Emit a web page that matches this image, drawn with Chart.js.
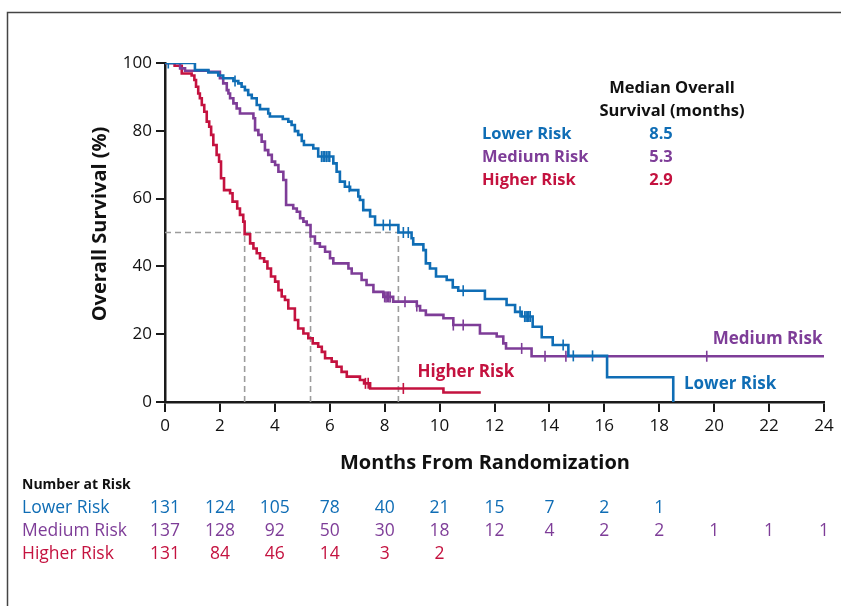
<!DOCTYPE html>
<html>
<head>
<meta charset="utf-8">
<script src="https://cdn.jsdelivr.net/npm/chart.js@4/dist/chart.umd.min.js"></script>
<style>
  html, body { margin: 0; padding: 0; background: #fff; }
  #wrap { width: 841px; height: 606px; position: relative; }
</style>
</head>
<body>
<div id="wrap"><canvas id="km" width="841" height="606"></canvas></div>
<script>
// Kaplan-Meier step data: event times (months) and overall survival (%)
const lowerTimes = [0, 1.09, 1.58, 1.94, 2.12, 2.49, 2.67, 2.79, 2.91, 3.03, 3.16, 3.34, 3.46, 3.76, 3.82, 4.29, 4.49, 4.61, 4.73, 4.85, 4.98, 5.06, 5.40, 5.58, 6.13, 6.25, 6.37, 6.55, 6.74, 7.04, 7.10, 7.22, 7.47, 7.65, 8.5, 8.98, 9.04, 9.41, 9.50, 9.65, 9.87, 10.26, 10.48, 10.68, 11.65, 12.44, 12.75, 12.99, 13.39, 13.72, 14.12, 14.69, 16.10, 18.51];
const lowerSurv  = [100, 97.9, 97.2, 96.3, 95.5, 94.7, 94.0, 93.0, 92.0, 90.6, 89.6, 87.6, 86.4, 85.1, 84.2, 83.5, 82.7, 81.7, 79.9, 78.8, 77.0, 75.8, 74.8, 72.4, 70.4, 67.9, 65.0, 63.5, 62.5, 60.6, 59.6, 56.6, 54.7, 52.2, 50.0, 48.3, 46.5, 44.8, 40.9, 39.4, 37.0, 36.0, 33.8, 32.8, 30.4, 28.6, 26.6, 25.2, 22.2, 19.1, 16.8, 13.6, 7.3, 0];
const lowerCensored = [0.12, 2.55, 5.70, 5.76, 5.82, 5.88, 5.94, 6.0, 6.71, 7.95, 8.19, 8.68, 8.86, 10.86, 12.93, 13.10, 13.15, 13.20, 13.25, 13.30, 14.5, 14.87, 15.57];

const mediumTimes = [0, 0.55, 0.73, 1.58, 2.0, 2.12, 2.25, 2.31, 2.37, 2.49, 2.61, 2.73, 3.22, 3.28, 3.40, 3.52, 3.64, 3.76, 3.89, 4.01, 4.13, 4.31, 4.41, 4.67, 4.80, 4.92, 5.04, 5.16, 5.3, 5.46, 5.64, 5.83, 6.01, 6.13, 6.68, 6.80, 7.16, 7.34, 7.59, 7.95, 8.31, 9.17, 9.29, 9.50, 10.14, 10.5, 11.47, 12.08, 12.32, 12.42, 13.35, 24];
const mediumSurv  = [100, 98.4, 97.7, 97.4, 95.5, 94.0, 92.0, 91.0, 89.6, 88.1, 86.6, 85.1, 83.7, 80.2, 78.8, 76.8, 74.3, 72.9, 70.9, 69.9, 67.9, 65.5, 58.1, 57.1, 56.1, 54.2, 53.2, 52.2, 48.8, 46.8, 45.8, 44.3, 42.4, 40.9, 39.4, 37.9, 36.0, 34.5, 32.5, 31.0, 29.6, 28.3, 27.0, 25.7, 24.7, 22.7, 20.2, 19.3, 17.3, 15.8, 13.5, 13.5];
const mediumCensored = [8.0, 8.05, 8.1, 8.15, 8.2, 8.74, 9.17, 10.5, 10.86, 12.99, 13.84, 14.6, 19.73];

const higherTimes = [0, 0.35, 0.61, 0.97, 1.07, 1.13, 1.21, 1.27, 1.34, 1.43, 1.52, 1.61, 1.68, 1.76, 1.88, 1.97, 2.04, 2.15, 2.37, 2.46, 2.63, 2.73, 2.85, 2.9, 3.10, 3.22, 3.34, 3.46, 3.61, 3.73, 3.86, 4.01, 4.13, 4.25, 4.37, 4.49, 4.73, 4.85, 5.04, 5.22, 5.38, 5.58, 5.71, 5.83, 6.07, 6.25, 6.43, 6.62, 7.10, 7.25, 7.47, 10.14, 11.5];
const higherSurv  = [100, 99.2, 96.9, 96.3, 95.0, 93.0, 91.0, 89.6, 87.6, 85.6, 82.7, 81.2, 78.8, 75.8, 72.9, 70.9, 66.0, 62.5, 61.6, 59.1, 57.1, 55.2, 53.2, 49.5, 46.8, 45.3, 43.9, 42.4, 41.4, 39.4, 37.0, 35.5, 33.0, 31.1, 30.1, 27.6, 24.2, 21.7, 20.2, 18.8, 17.3, 16.3, 14.8, 12.9, 11.9, 10.4, 8.9, 7.5, 6.5, 5.5, 4.0, 2.8, 2.8];
const higherCensored = [7.3, 7.4, 8.68];

// Median overall survival (months)
const groupNames = ['Lower Risk', 'Medium Risk', 'Higher Risk'];
const medianOS = [8.5, 5.3, 2.9];

// Number at risk, every 2 months
const riskMonths  = [0, 2, 4, 6, 8, 10, 12, 14, 16, 18, 20, 22, 24];
const lowerRisk   = [131, 124, 105, 78, 40, 21, 15, 7, 2, 1];
const mediumRisk  = [137, 128, 92, 50, 30, 18, 12, 4, 2, 2, 1, 1, 1];
const higherRisk  = [131, 84, 46, 14, 3, 2];

const xTicks = [0, 2, 4, 6, 8, 10, 12, 14, 16, 18, 20, 22, 24];
const yTicks = [0, 20, 40, 60, 80, 100];

const COLORS = { lower: '#0f6db5', medium: '#7e3d98', higher: '#c4123f' };
const FONT = '"Open Sans", "Noto Sans", sans-serif';

function toPoints(ts, ss) { return ts.map((t, i) => ({ x: t, y: ss[i] })); }
function survivalAt(ts, ss, t) {
  let s = ss[0];
  for (let i = 0; i < ts.length; i++) { if (ts[i] <= t) s = ss[i]; else break; }
  return s;
}
function censorPoints(cs, ts, ss) { return cs.map(t => ({ x: t, y: survivalAt(ts, ss, t) })); }

// survival holds its level until the next event time, then drops
const curve = (label, pts, color, order) => ({
  type: 'line', label, data: pts, stepped: 'before', borderColor: color, borderWidth: 2.6,
  pointRadius: 0, fill: false, order
});
const censor = (label, pts, color, order) => ({
  type: 'line', label, data: pts, showLine: false, pointStyle: 'line', rotation: 90,
  pointRadius: 5.5, borderColor: color, backgroundColor: color, pointBorderWidth: 1.6, order
});
const dashed = (pts) => ({
  type: 'line', data: pts, borderColor: '#9c9c9c', borderWidth: 1.6, borderDash: [6, 4],
  pointRadius: 0, fill: false, order: 10
});

const maxMedian = Math.max(...medianOS);
const datasets = [
  curve(groupNames[0], toPoints(lowerTimes, lowerSurv), COLORS.lower, 1),
  censor('lc', censorPoints(lowerCensored, lowerTimes, lowerSurv), COLORS.lower, 1),
  curve(groupNames[1], toPoints(mediumTimes, mediumSurv), COLORS.medium, 2),
  censor('mc', censorPoints(mediumCensored, mediumTimes, mediumSurv), COLORS.medium, 2),
  curve(groupNames[2], toPoints(higherTimes, higherSurv), COLORS.higher, 3),
  censor('hc', censorPoints(higherCensored, higherTimes, higherSurv), COLORS.higher, 3),
  dashed([{ x: 0, y: 50 }, { x: maxMedian, y: 50 }]),
  ...medianOS.map(m => dashed([{ x: m, y: 0 }, { x: m, y: 50 }]))
];

// Frame, axis titles, median table, curve labels and number-at-risk rows
const decorations = {
  id: 'decorations',
  afterDraw(chart) {
    const ctx = chart.ctx;
    const xs = chart.scales.x, ys = chart.scales.y;
    ctx.save();

    // outer frame (top and left edges)
    ctx.strokeStyle = '#444';
    ctx.lineWidth = 1.5;
    ctx.beginPath();
    ctx.moveTo(7.5, 606); ctx.lineTo(7.5, 12.5); ctx.lineTo(841, 12.5);
    ctx.stroke();

    ctx.fillStyle = '#111';
    ctx.textBaseline = 'middle';

    // y axis title
    ctx.save();
    ctx.translate(100, 224);
    ctx.rotate(-Math.PI / 2);
    ctx.textAlign = 'center';
    ctx.font = 'bold 20px ' + FONT;
    ctx.fillText('Overall Survival (%)', 0, 0);
    ctx.restore();

    // x axis title
    ctx.textAlign = 'center';
    ctx.font = 'bold 20px ' + FONT;
    ctx.fillText('Months From Randomization', 485, 463);

    // median overall survival table
    ctx.font = 'bold 16.5px ' + FONT;
    ctx.fillText('Median Overall', 672, 88);
    ctx.fillText('Survival (months)', 672, 111);
    const groupColors = [COLORS.lower, COLORS.medium, COLORS.higher];
    groupNames.forEach((g, i) => {
      const y = 134 + i * 23;
      ctx.fillStyle = groupColors[i];
      ctx.textAlign = 'left';
      ctx.fillText(g, 482, y);
      ctx.textAlign = 'center';
      ctx.fillText(medianOS[i].toFixed(1), 661, y);
    });

    // curve labels
    ctx.font = 'bold 17px ' + FONT;
    ctx.textAlign = 'left';
    ctx.fillStyle = COLORS.higher;
    ctx.fillText('Higher Risk', xs.getPixelForValue(9.2), ys.getPixelForValue(8.8));
    ctx.fillStyle = COLORS.medium;
    ctx.fillText('Medium Risk', xs.getPixelForValue(19.95), ys.getPixelForValue(18.4));
    ctx.fillStyle = COLORS.lower;
    ctx.fillText('Lower Risk', xs.getPixelForValue(18.9), ys.getPixelForValue(5.3));

    // number at risk
    ctx.fillStyle = '#111';
    ctx.textAlign = 'left';
    ctx.font = 'bold 14px ' + FONT;
    ctx.fillText('Number at Risk', 22, 485);

    const rows = [lowerRisk, mediumRisk, higherRisk];
    rows.forEach((vals, r) => {
      const y = 508 + r * 23;
      ctx.fillStyle = groupColors[r];
      ctx.font = '17.5px ' + FONT;
      ctx.textAlign = 'left';
      ctx.fillText(groupNames[r], 22, y);
      ctx.textAlign = 'center';
      vals.forEach((v, i) => {
        ctx.fillText(String(v), xs.getPixelForValue(riskMonths[i]), y);
      });
    });

    ctx.restore();
  }
};

new Chart(document.getElementById('km'), {
  type: 'line',
  data: { datasets },
  options: {
    responsive: false,
    animation: false,
    events: [],
    layout: { padding: { top: 63, right: 17, left: 0, bottom: 0 } },
    plugins: { legend: { display: false }, tooltip: { enabled: false }, title: { display: false } },
    scales: {
      x: {
        type: 'linear', min: 0, max: 24,
        afterFit(s) { s.height = 204; },
        afterBuildTicks(s) { s.ticks = xTicks.map(v => ({ value: v })); },
        ticks: { color: '#111', font: { family: FONT, size: 17 }, padding: 4, maxRotation: 0 },
        grid: { display: true, drawOnChartArea: false, drawTicks: true, tickLength: 10, color: '#1a1a1a', lineWidth: 2 },
        border: { display: true, color: '#1a1a1a', width: 2.5 }
      },
      y: {
        type: 'linear', min: 0, max: 100,
        afterFit(s) { s.width = 165; },
        afterBuildTicks(s) { s.ticks = yTicks.map(v => ({ value: v })); },
        ticks: { color: '#111', font: { family: FONT, size: 17 }, padding: 4 },
        grid: { display: true, drawOnChartArea: false, drawTicks: true, tickLength: 9, color: '#1a1a1a', lineWidth: 2 },
        border: { display: true, color: '#1a1a1a', width: 2.5 }
      }
    }
  },
  plugins: [decorations]
});
</script>
</body>
</html>
